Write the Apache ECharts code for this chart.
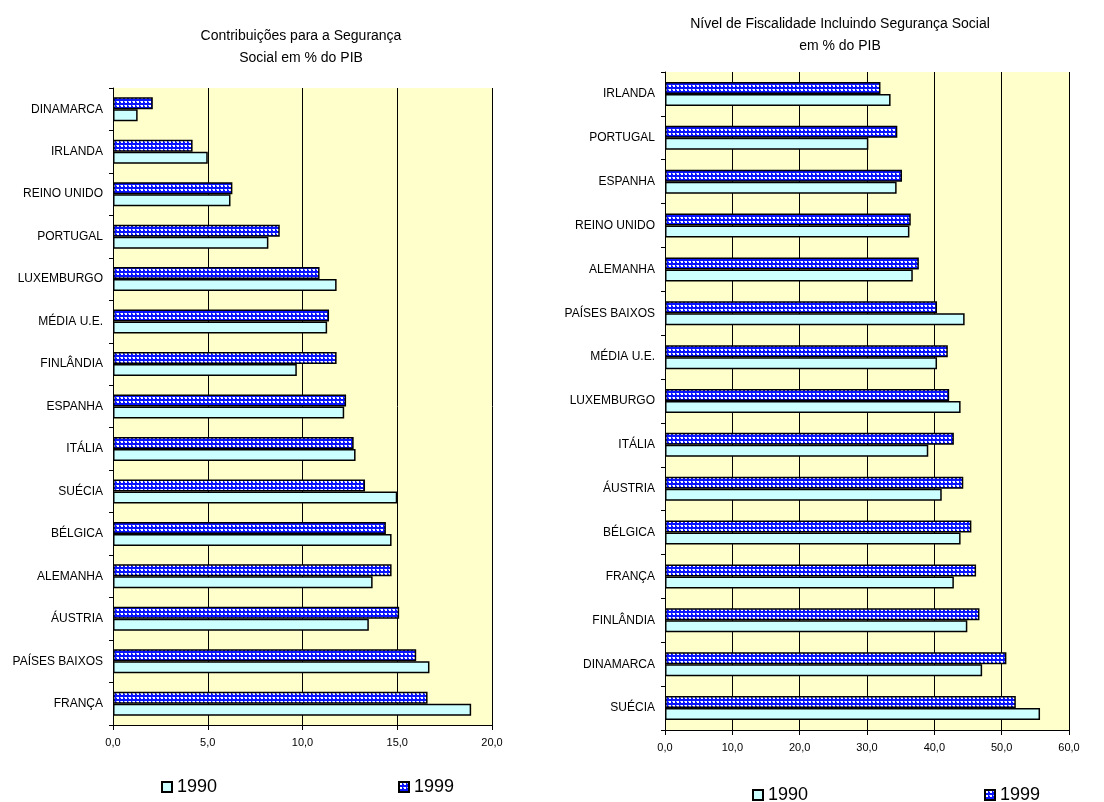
<!DOCTYPE html>
<html>
<head>
<meta charset="utf-8">
<script src="https://cdn.jsdelivr.net/npm/echarts@6/dist/echarts.min.js"></script>
<style>
  html, body { margin: 0; padding: 0; background: #ffffff; }
  #chart { width: 1104px; height: 802px; }
</style>
</head>
<body>
<div id="chart"></div>
<script>
// Contribuições para a Segurança Social em % do PIB (top to bottom)
const leftCategories = ['DINAMARCA', 'IRLANDA', 'REINO UNIDO', 'PORTUGAL', 'LUXEMBURGO', 'MÉDIA U.E.', 'FINLÂNDIA',
  'ESPANHA', 'ITÁLIA', 'SUÉCIA', 'BÉLGICA', 'ALEMANHA', 'ÁUSTRIA', 'PAÍSES BAIXOS', 'FRANÇA'];
const left1990 = [1.3, 5.0, 6.2, 8.2, 11.8, 11.3, 9.7, 12.2, 12.8, 15.0, 14.7, 13.7, 13.5, 16.7, 18.9];
const left1999 = [2.1, 4.2, 6.3, 8.8, 10.9, 11.4, 11.8, 12.3, 12.7, 13.3, 14.4, 14.7, 15.1, 16.0, 16.6];

// Nível de Fiscalidade Incluindo Segurança Social em % do PIB (top to bottom)
const rightCategories = ['IRLANDA', 'PORTUGAL', 'ESPANHA', 'REINO UNIDO', 'ALEMANHA', 'PAÍSES BAIXOS', 'MÉDIA U.E.',
  'LUXEMBURGO', 'ITÁLIA', 'ÁUSTRIA', 'BÉLGICA', 'FRANÇA', 'FINLÂNDIA', 'DINAMARCA', 'SUÉCIA'];
const right1990 = [33.5, 30.2, 34.4, 36.3, 36.8, 44.5, 40.4, 43.9, 39.1, 41.1, 43.9, 42.9, 44.9, 47.1, 55.7];
const right1999 = [32.0, 34.5, 35.2, 36.5, 37.7, 40.4, 42.0, 42.2, 42.9, 44.3, 45.5, 46.2, 46.7, 50.7, 52.1];

const seriesNames = ['1990', '1999'];
const leftTicks = { min: 0, max: 20, interval: 5 };
const rightTicks = { min: 0, max: 60, interval: 10 };

// blue check fill for the 1999 bars
function checkPattern() {
  const c = document.createElement('canvas');
  c.width = 4; c.height = 4;
  const g = c.getContext('2d');
  g.fillStyle = '#0a14ff';
  g.fillRect(0, 0, 4, 4);
  g.fillStyle = '#ffffff';
  g.fillRect(1, 1, 2, 2);
  g.fillStyle = '#9fb4ff';
  g.fillRect(0, 1, 1, 1);
  return c;
}
const pattern = { image: checkPattern(), repeat: 'repeat' };
const plainFill = '#ccffff';

const font = 'Liberation Sans, Arial, sans-serif';
const fmt = v => v.toFixed(1).replace('.', ',');

function xAxisFor(gridIndex, ticks) {
  return {
    type: 'value', gridIndex, min: ticks.min, max: ticks.max, interval: ticks.interval,
    axisLine: { show: true, lineStyle: { color: '#000', width: 1 } },
    axisTick: { show: true, length: 5, lineStyle: { color: '#000' } },
    axisLabel: { color: '#000', fontSize: 11, fontFamily: font, margin: 12, formatter: fmt },
    splitLine: { show: true, lineStyle: { color: '#000', width: 1 } }
  };
}
function yAxisFor(gridIndex, cats) {
  return {
    type: 'category', gridIndex, data: cats, inverse: true,
    axisLine: { show: true, lineStyle: { color: '#000', width: 1 } },
    axisTick: { show: true, length: 4, lineStyle: { color: '#000' } },
    axisLabel: { color: '#000', fontSize: 12, fontFamily: font, margin: 10 },
    splitLine: { show: false }
  };
}
function barSeries(name, axisIndex, data, color) {
  return {
    type: 'bar', name, xAxisIndex: axisIndex, yAxisIndex: axisIndex, data,
    barWidth: 12, barGap: '0%',
    itemStyle: { color, borderColor: '#000', borderWidth: 1.5 },
    emphasis: { disabled: true }
  };
}

const chart = echarts.init(document.getElementById('chart'), null, { renderer: 'canvas' });
chart.setOption({
  animation: false,
  backgroundColor: '#ffffff',
  title: [
    { text: 'Contribuições para a Segurança\nSocial em % do PIB', left: 296, top: 20, textAlign: 'center',
      textStyle: { fontSize: 14, fontWeight: 'normal', color: '#000', fontFamily: font, lineHeight: 22 } },
    { text: 'Nível de Fiscalidade Incluindo Segurança Social\nem % do PIB', left: 835, top: 8, textAlign: 'center',
      textStyle: { fontSize: 14, fontWeight: 'normal', color: '#000', fontFamily: font, lineHeight: 22 } }
  ],
  grid: [
    { left: 113, right: 612, top: 88, bottom: 77, show: true, backgroundColor: '#ffffcc', borderWidth: 0 },
    { left: 665, right: 35, top: 72, bottom: 72, show: true, backgroundColor: '#ffffcc', borderWidth: 0 }
  ],
  xAxis: [xAxisFor(0, leftTicks), xAxisFor(1, rightTicks)],
  yAxis: [yAxisFor(0, leftCategories), yAxisFor(1, rightCategories)],
  legend: [
    { data: [seriesNames[0]], left: 156, top: 773 },
    { data: [seriesNames[1]], left: 393, top: 773 },
    { data: [seriesNames[0]], left: 747, top: 781 },
    { data: [seriesNames[1]], left: 979, top: 781 }
  ].map(l => Object.assign(l, {
    orient: 'horizontal', icon: 'rect', itemWidth: 10, itemHeight: 10, itemGap: 0, selectedMode: false,
    textStyle: { fontSize: 18, color: '#000', fontFamily: font }
  })),
  series: [
    barSeries(seriesNames[1], 0, left1999, pattern),
    barSeries(seriesNames[0], 0, left1990, plainFill),
    barSeries(seriesNames[1], 1, right1999, pattern),
    barSeries(seriesNames[0], 1, right1990, plainFill)
  ]
});
</script>
</body>
</html>
